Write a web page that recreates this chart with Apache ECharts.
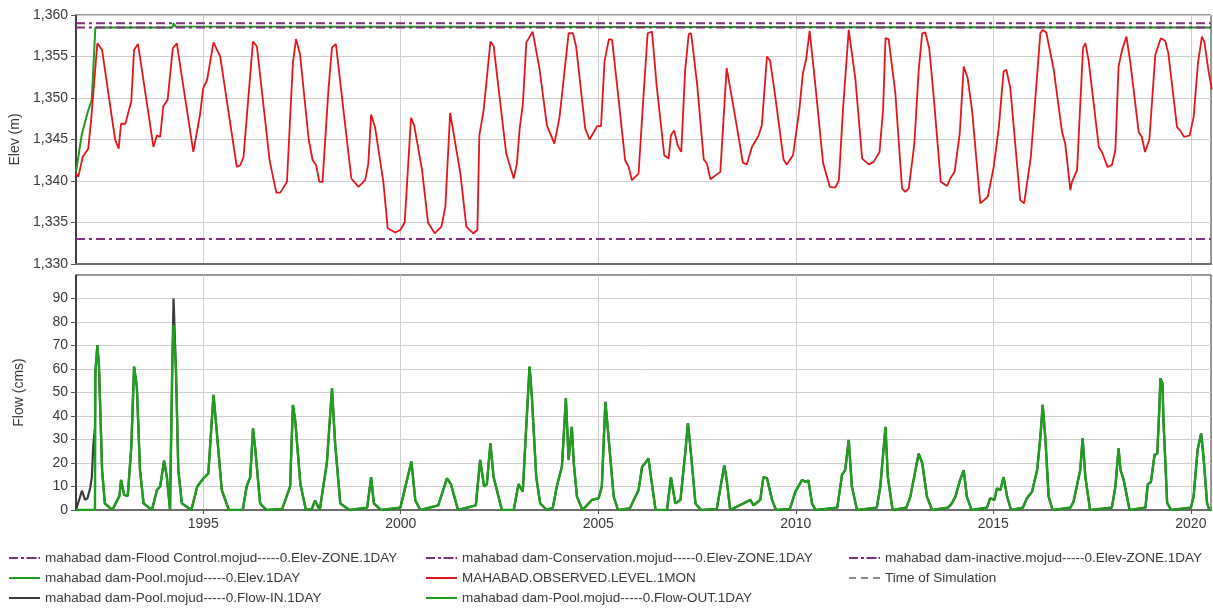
<!DOCTYPE html>
<html><head><meta charset="utf-8">
<script src="https://cdn.jsdelivr.net/npm/echarts@6/dist/echarts.min.js"></script>
<style>html,body{margin:0;padding:0;background:#fff}#c{width:1213px;height:610px}</style>
</head><body><div id="c"></div>
<script>
// ---- data ----
const X_MIN = 1991.78, X_MAX = 2020.51;
const yearTicks = [1995, 2000, 2005, 2010, 2015, 2020];
const flowTicks = [0, 10, 20, 30, 40, 50, 60, 70, 80, 90];

const floodControlElev = 1359.0;
const conservationElev = 1358.5;
const inactiveElev = 1333.0;

const poolYears = [1991.78, 1991.93, 1992.07, 1992.18, 1992.27, 1994.22, 1994.25, 1994.30, 1994.35, 2020.51];
const poolElev  = [1341.1, 1345.7, 1348.2, 1349.8, 1358.5, 1358.5, 1359.0, 1358.6, 1358.5, 1358.5];

const obsYears = [1991.78,1991.84,1991.95,1992.09,1992.17,1992.32,1992.44,1992.77,1992.86,1992.92,1993.03,1993.18,1993.25,1993.35,1993.74,1993.83,1993.91,1993.99,1994.10,1994.23,1994.33,1994.75,1994.92,1995.00,1995.10,1995.26,1995.43,1995.85,1995.94,1996.02,1996.26,1996.36,1996.68,1996.85,1996.95,1997.12,1997.27,1997.35,1997.45,1997.67,1997.77,1997.86,1997.94,1998.02,1998.17,1998.26,1998.36,1998.51,1998.75,1998.93,1999.10,1999.18,1999.25,1999.35,1999.56,1999.67,1999.86,1999.99,2000.10,2000.26,2000.34,2000.54,2000.69,2000.86,2001.03,2001.13,2001.25,2001.34,2001.51,2001.66,2001.84,2001.94,2001.99,2002.10,2002.27,2002.35,2002.67,2002.86,2002.94,2003.01,2003.09,2003.18,2003.34,2003.51,2003.70,2003.89,2004.02,2004.25,2004.36,2004.44,2004.67,2004.78,2004.97,2005.07,2005.16,2005.27,2005.35,2005.47,2005.68,2005.77,2005.85,2006.02,2006.15,2006.25,2006.36,2006.48,2006.67,2006.78,2006.84,2006.92,2007.01,2007.10,2007.20,2007.29,2007.35,2007.50,2007.67,2007.75,2007.84,2008.09,2008.25,2008.42,2008.51,2008.66,2008.76,2008.89,2009.06,2009.14,2009.27,2009.35,2009.48,2009.69,2009.77,2009.93,2010.09,2010.18,2010.26,2010.35,2010.49,2010.69,2010.86,2011.00,2011.09,2011.20,2011.34,2011.51,2011.68,2011.85,2011.97,2012.12,2012.21,2012.27,2012.35,2012.52,2012.69,2012.77,2012.86,2013.00,2013.11,2013.20,2013.28,2013.38,2013.49,2013.67,2013.83,2013.91,2014.02,2014.15,2014.25,2014.35,2014.46,2014.67,2014.86,2015.01,2015.14,2015.26,2015.33,2015.43,2015.68,2015.78,2015.95,2016.10,2016.19,2016.25,2016.34,2016.53,2016.74,2016.82,2016.95,2016.99,2017.12,2017.27,2017.33,2017.41,2017.67,2017.75,2017.89,2018.00,2018.09,2018.17,2018.26,2018.37,2018.47,2018.68,2018.76,2018.84,2018.95,2019.10,2019.24,2019.35,2019.43,2019.65,2019.73,2019.83,2019.97,2020.07,2020.18,2020.28,2020.34,2020.45,2020.53];
const obsElev = [1340.9,1340.5,1342.9,1343.9,1347.7,1356.6,1355.8,1345.0,1343.9,1346.9,1346.9,1349.6,1355.8,1356.5,1344.1,1345.5,1345.3,1349.0,1349.8,1356.0,1356.6,1343.5,1348.0,1351.2,1352.2,1356.7,1355.0,1341.7,1341.9,1342.9,1356.8,1356.2,1342.5,1338.6,1338.6,1339.9,1354.2,1357.1,1355.3,1345.0,1342.5,1341.9,1339.9,1339.9,1351.0,1356.1,1356.5,1350.2,1340.3,1339.3,1340.1,1342.1,1348.0,1346.5,1339.9,1334.3,1333.8,1334.1,1335.0,1347.6,1346.7,1341.3,1335.0,1333.7,1334.5,1336.9,1348.2,1345.7,1340.9,1334.5,1333.7,1334.1,1345.5,1348.6,1356.8,1356.3,1343.3,1340.3,1342.1,1346.3,1349.2,1356.7,1358.0,1353.6,1346.7,1344.5,1347.7,1357.8,1357.8,1356.2,1346.3,1345.0,1346.6,1346.6,1354.5,1357.1,1357.0,1351.8,1342.5,1341.7,1340.1,1340.9,1350.6,1357.8,1358.0,1351.4,1343.1,1342.7,1345.5,1346.1,1344.3,1343.5,1353.4,1357.7,1357.8,1351.8,1342.6,1342.1,1340.2,1341.1,1353.6,1349.0,1346.5,1342.2,1342.0,1344.1,1345.5,1346.7,1355.0,1354.5,1350.2,1342.6,1342.0,1343.1,1348.6,1353.0,1354.6,1358.1,1351.8,1342.2,1339.3,1339.2,1340.1,1349.0,1358.2,1352.2,1342.7,1342.0,1342.3,1343.5,1348.6,1357.2,1357.1,1350.6,1339.1,1338.7,1339.1,1344.4,1353.3,1357.8,1357.9,1355.9,1350.2,1339.9,1339.4,1340.3,1341.1,1345.7,1353.8,1352.4,1348.6,1337.3,1338.1,1341.7,1346.5,1353.2,1353.4,1351.2,1337.7,1337.3,1342.9,1352.2,1357.8,1358.2,1357.9,1353.4,1345.9,1344.5,1338.9,1339.9,1341.3,1356.0,1356.6,1354.6,1344.1,1343.5,1341.7,1341.9,1343.7,1353.8,1355.8,1357.4,1354.2,1345.9,1345.3,1343.5,1345.0,1355.2,1357.2,1356.9,1355.4,1346.5,1346.1,1345.3,1345.5,1347.7,1354.2,1357.4,1356.8,1353.2,1351.0];

const outYears = [1991.78,1992.26,1992.27,1992.32,1992.36,1992.44,1992.51,1992.70,1992.88,1992.92,1993.00,1993.09,1993.18,1993.25,1993.32,1993.40,1993.49,1993.70,1993.83,1993.91,1994.01,1994.08,1994.16,1994.22,1994.25,1994.31,1994.37,1994.46,1994.70,1994.85,1995.01,1995.13,1995.26,1995.34,1995.47,1995.65,1996.00,1996.10,1996.19,1996.26,1996.32,1996.44,1996.60,1997.00,1997.20,1997.27,1997.33,1997.46,1997.60,1997.75,1997.83,1997.95,1998.13,1998.26,1998.34,1998.47,1998.70,1999.15,1999.25,1999.32,1999.50,1999.99,2000.27,2000.37,2000.50,2000.95,2001.17,2001.27,2001.45,2001.90,2002.01,2002.11,2002.18,2002.27,2002.35,2002.56,2002.86,2002.98,2003.09,2003.15,2003.26,2003.32,2003.43,2003.53,2003.70,2003.85,2003.95,2004.08,2004.18,2004.25,2004.33,2004.38,2004.46,2004.60,2004.84,2005.01,2005.09,2005.18,2005.26,2005.39,2005.50,2005.80,2006.02,2006.11,2006.19,2006.27,2006.36,2006.45,2006.74,2006.84,2006.95,2007.08,2007.20,2007.27,2007.33,2007.46,2007.60,2008.00,2008.19,2008.25,2008.34,2008.85,2008.93,2009.10,2009.18,2009.27,2009.40,2009.50,2009.85,2009.99,2010.16,2010.24,2010.32,2010.41,2010.50,2011.05,2011.17,2011.25,2011.34,2011.42,2011.55,2012.05,2012.14,2012.27,2012.33,2012.45,2012.80,2012.90,2013.03,2013.11,2013.20,2013.32,2013.45,2013.85,2013.95,2014.04,2014.16,2014.25,2014.33,2014.45,2014.84,2014.92,2015.03,2015.09,2015.18,2015.26,2015.35,2015.45,2015.75,2015.85,2015.98,2016.11,2016.19,2016.25,2016.32,2016.40,2016.50,2016.95,2017.03,2017.20,2017.26,2017.33,2017.45,2018.00,2018.09,2018.17,2018.22,2018.30,2018.45,2018.85,2018.91,2018.99,2019.08,2019.15,2019.20,2019.23,2019.28,2019.31,2019.40,2019.50,2020.00,2020.07,2020.17,2020.26,2020.32,2020.41,2020.47,2020.51];
const outFlow  = [0,0,58,70.2,62,17,2.8,0,6,12.8,6.4,6,27,61,52.5,17,2.8,0,8.5,10,21,14,0,65,78.7,59.6,17,2.8,0,10,13.5,15.6,49,34,8.5,0,0,10,14,34.7,25.5,2.8,0,0.5,10,44.7,38,11,0,0.5,4,0,20,51.8,28,2.8,0,1,14,2.8,0,1,20.6,4,0,2,13.5,11,0,2,21.3,10,11,28.4,14,0,0,11,7.8,27,61,48,14,2.8,0,1,10,18.5,47.5,21.3,35.4,20,5.7,0,4.3,5,10,46,31,5.7,0,0.7,8.5,18.4,20,22,11,0,0,14,2.8,4.3,24,37,27,2.8,0,0.5,19,12.8,0,4.3,2,4.3,14,13.5,4.3,0,0.5,7.8,12.8,12,12.5,2.8,0,1,15,17,29.8,10,0,1,10,35.4,14,0,1,5.7,17,24,20,5.7,0,1,2.8,5.7,12.8,17,5.7,0,1,5,4.3,9.2,8.5,14,5.7,0,1,5,7.8,17,31,44.7,29.8,5.7,0,1,3.5,17,30.5,14,0,1,10,26.2,17,12.8,0,1,11,12,23.4,24,42.5,56,54,37,3,0,1,5.7,25.5,32.6,22.7,3,0,0];

// inflow differs from outflow only while the pool was filling and at the 1994 flood peak
const inEarlyYears = [1991.78,1991.93,1992.01,1992.07,1992.14,1992.18,1992.22,1992.26];
const inEarlyFlow  = [0,8.2,4.3,5,9.4,14,28,35];
const inPeakYear = 1994.25, inPeakFlow = 90;

const NAMES = {
  flood: 'mahabad dam-Flood Control.mojud-----0.Elev-ZONE.1DAY',
  cons: 'mahabad dam-Conservation.mojud-----0.Elev-ZONE.1DAY',
  inact: 'mahabad dam-inactive.mojud-----0.Elev-ZONE.1DAY',
  pool: 'mahabad dam-Pool.mojud-----0.Elev.1DAY',
  obs: 'MAHABAD.OBSERVED.LEVEL.1MON',
  sim: 'Time of Simulation',
  fin: 'mahabad dam-Pool.mojud-----0.Flow-IN.1DAY',
  fout: 'mahabad dam-Pool.mojud-----0.Flow-OUT.1DAY'
};

// ---- build ----
const zip = (xs, ys) => xs.map((x, i) => [x, ys[i]]);
const flat = v => [[X_MIN, v], [X_MAX, v]];
const inData = zip(inEarlyYears, inEarlyFlow).concat(
  zip(outYears, outFlow).filter(p => p[0] > inEarlyYears[inEarlyYears.length - 1])
    .map(p => p[0] === inPeakYear ? [p[0], inPeakFlow] : p));

const FONT = "'Liberation Sans', Arial, sans-serif";
const TXT = '#3a3a3a';
const purple = '#7b3379';
const green = '#1f9e1f';
const red = '#e3171b';
const dashDot = [9, 4, 3, 4];

const ICON_SOLID = 'path://M0,0h31v2h-31z';
const ICON_DASHDOT = 'path://M0,0h9v2h-9z M12,0h3v2h-3z M17.5,0h10v2h-10z M29.5,0h1.5v2h-1.5z';
const ICON_DASH = 'path://M0,0h7v2h-7z M12,0h7v2h-7z M24,0h7v2h-7z';

function xAxisCfg(gi, showLabels) {
  return {
    type: 'value', gridIndex: gi, min: X_MIN, max: X_MAX,
    axisLine: { show: true, onZero: false, lineStyle: { color: '#6e6e6e', width: 2 } },
    axisTick: { show: showLabels, customValues: yearTicks, length: 4, lineStyle: { color: '#555' } },
    axisLabel: { show: showLabels, customValues: yearTicks, formatter: v => String(Math.round(v)),
      color: TXT, fontSize: 14, fontFamily: FONT, margin: 7 },
    splitLine: { show: true, customValues: yearTicks, lineStyle: { color: '#cfcfcf', width: 1 } }
  };
}

function leg(name, icon, left, cy) {
  return {
    left: left, top: cy - 8, orient: 'horizontal', itemWidth: 31, itemHeight: 2,
    icon: icon, padding: 0, selectedMode: false,
    textStyle: { color: TXT, fontSize: 13.5, fontFamily: FONT, lineHeight: 16 },
    data: [{ name: name, icon: icon }]
  };
}

const COL = [9, 426, 849], ROW = [558, 578, 598];

const option = {
  animation: false,
  backgroundColor: '#fff',
  grid: [
    { left: 76, right: 2, top: 15, height: 249, show: true, borderColor: '#333', borderWidth: 1 },
    { left: 76, right: 2, top: 275, height: 235, show: true, borderColor: '#333', borderWidth: 1 }
  ],
  xAxis: [xAxisCfg(0, false), xAxisCfg(1, true)],
  yAxis: [
    { type: 'value', gridIndex: 0, min: 1330, max: 1360, interval: 5,
      name: 'Elev (m)', nameLocation: 'middle', nameGap: 42, nameRotate: 90,
      nameTextStyle: { color: TXT, fontSize: 14, fontFamily: FONT },
      axisLine: { show: true, lineStyle: { color: '#222', width: 1.5 } },
      axisTick: { show: true, length: 5, lineStyle: { color: '#555' } },
      axisLabel: { color: TXT, fontSize: 14, fontFamily: FONT, margin: 8,
        formatter: v => String(v).replace(/\B(?=(\d{3})+(?!\d))/g, ',') },
      splitLine: { show: true, lineStyle: { color: '#cfcfcf', width: 1 } } },
    { type: 'value', gridIndex: 1, min: 0, max: 100, interval: 10,
      name: 'Flow (cms)', nameLocation: 'middle', nameGap: 50, nameRotate: 90,
      nameTextStyle: { color: TXT, fontSize: 14, fontFamily: FONT },
      axisLine: { show: true, lineStyle: { color: '#222', width: 1.5 } },
      axisTick: { show: true, length: 5, customValues: flowTicks, lineStyle: { color: '#555' } },
      axisLabel: { color: TXT, fontSize: 14, fontFamily: FONT, margin: 8, customValues: flowTicks,
        formatter: v => String(v) },
      splitLine: { show: true, customValues: flowTicks, lineStyle: { color: '#cfcfcf', width: 1 } } }
  ],
  legend: [
    leg(NAMES.flood, ICON_DASHDOT, COL[0], ROW[0]),
    leg(NAMES.cons, ICON_DASHDOT, COL[1], ROW[0]),
    leg(NAMES.inact, ICON_DASHDOT, COL[2], ROW[0]),
    leg(NAMES.pool, ICON_SOLID, COL[0], ROW[1]),
    leg(NAMES.obs, ICON_SOLID, COL[1], ROW[1]),
    leg(NAMES.sim, ICON_DASH, COL[2], ROW[1]),
    leg(NAMES.fin, ICON_SOLID, COL[0], ROW[2]),
    leg(NAMES.fout, ICON_SOLID, COL[1], ROW[2])
  ],
  series: [
    { name: NAMES.pool, type: 'line', xAxisIndex: 0, yAxisIndex: 0,
      data: zip(poolYears, poolElev), symbol: 'none', color: green,
      lineStyle: { color: green, width: 2 } },
    { name: NAMES.flood, type: 'line', xAxisIndex: 0, yAxisIndex: 0,
      data: flat(floodControlElev), symbol: 'none', color: purple,
      lineStyle: { color: purple, width: 2, type: dashDot } },
    { name: NAMES.cons, type: 'line', xAxisIndex: 0, yAxisIndex: 0,
      data: flat(conservationElev), symbol: 'none', color: purple,
      lineStyle: { color: purple, width: 2, type: dashDot } },
    { name: NAMES.inact, type: 'line', xAxisIndex: 0, yAxisIndex: 0,
      data: flat(inactiveElev), symbol: 'none', color: purple,
      lineStyle: { color: purple, width: 2, type: dashDot } },
    { name: NAMES.obs, type: 'line', xAxisIndex: 0, yAxisIndex: 0,
      data: zip(obsYears, obsElev), symbol: 'none', color: red,
      lineStyle: { color: red, width: 1.8 } },
    { name: NAMES.sim, type: 'line', xAxisIndex: 0, yAxisIndex: 0,
      data: [], symbol: 'none', color: '#8a8a8a',
      lineStyle: { color: '#8a8a8a', width: 1.5, type: [7, 4] } },
    { name: NAMES.fin, type: 'line', xAxisIndex: 1, yAxisIndex: 1,
      data: inData, symbol: 'none', color: '#3d3d3d',
      lineStyle: { color: '#3d3d3d', width: 2.2 } },
    { name: NAMES.fout, type: 'line', xAxisIndex: 1, yAxisIndex: 1,
      data: zip(outYears, outFlow), symbol: 'none', color: green,
      lineStyle: { color: green, width: 2.4 } }
  ]
};
const chart = echarts.init(document.getElementById('c'), null, { renderer: 'canvas' });
chart.setOption(option);
</script></body></html>
